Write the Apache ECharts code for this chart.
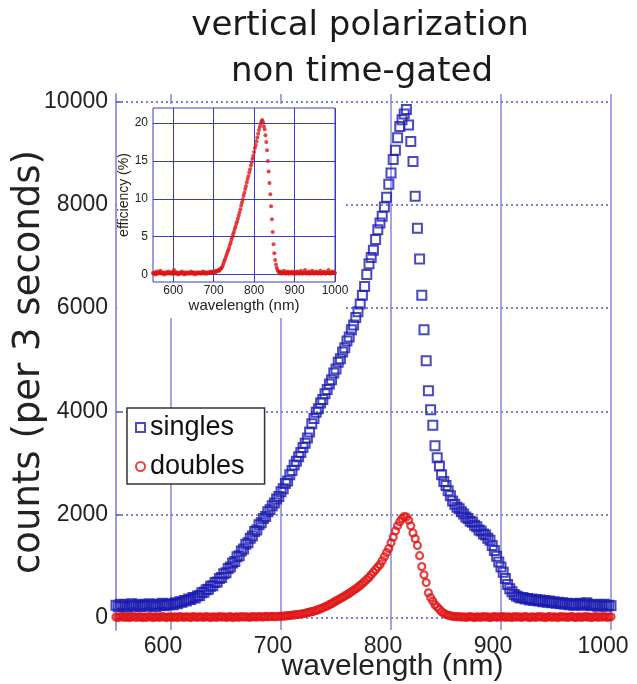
<!DOCTYPE html>
<html><head><meta charset="utf-8">
<script src="https://cdn.jsdelivr.net/npm/echarts@6/dist/echarts.min.js"></script>
<style>html,body{margin:0;padding:0;background:#fff}#c{width:637px;height:684px}</style>
</head><body><div id="c"></div><script>
const wavelengths = [550,552,554,556,558,560,562,564,566,568,570,572,574,576,578,580,582,584,586,588,590,592,594,596,598,
600,602,604,606,608,610,612,614,616,618,620,622,624,626,628,630,632,634,636,638,640,642,644,646,648,
650,652,654,656,658,660,662,664,666,668,670,672,674,676,678,680,682,684,686,688,690,692,694,696,698,
700,702,704,706,708,710,712,714,716,718,720,722,724,726,728,730,732,734,736,738,740,742,744,746,748,
750,752,754,756,758,760,762,764,766,768,770,772,774,776,778,780,782,784,786,788,790,792,794,796,798,
800,802,804,806,808,810,812,814,816,818,820,822,824,826,828,830,832,834,836,838,840,842,844,846,848,
850,852,854,856,858,860,862,864,866,868,870,872,874,876,878,880,882,884,886,888,890,892,894,896,898,
900,902,904,906,908,910,912,914,916,918,920,922,924,926,928,930,932,934,936,938,940,942,944,946,948,
950,952,954,956,958,960,962,964,966,968,970,972,974,976,978,980,982,984,986,988,990,992,994,996,998,1000];

const singles = [240,210,260,220,250,200,240,270,220,230,260,210,240,250,220,270,230,250,210,260,240,280,230,260,250,
270,250,290,270,310,300,330,320,360,350,390,380,420,430,480,490,540,550,610,620,680,690,760,780,850,
870,950,980,1060,1090,1180,1200,1290,1330,1420,1450,1540,1580,1670,1700,1800,1840,1920,1960,2050,2090,2170,2220,2300,2350,
2440,2500,2600,2650,2770,2850,2960,3030,3120,3200,3300,3380,3480,3600,3760,3860,3980,4050,4160,4230,4340,4420,4530,4610,4740,
4820,4950,5020,5150,5230,5360,5440,5580,5670,5820,5930,6080,6250,6420,6650,6860,6980,7120,7330,7520,7650,7780,7960,8150,8400,
8620,8880,9060,9300,9520,9650,9760,9850,9550,9230,8840,8170,7550,6950,6250,5580,4980,4400,4030,3730,3330,3100,2940,2770,2640,
2560,2460,2360,2260,2200,2140,2110,2050,2010,1950,1920,1870,1850,1790,1760,1700,1680,1620,1600,1540,1500,1400,1300,1190,1080,
980,880,760,640,560,500,450,420,400,380,390,360,370,340,360,330,350,320,340,310,330,300,320,290,310,
280,300,270,290,260,280,250,270,240,270,250,280,240,260,290,250,230,260,240,220,250,230,260,220,240,230];

const doubles = [10,0,20,10,5,15,0,10,20,5,10,15,0,10,5,20,10,0,15,10,5,20,10,0,15,
10,5,15,0,20,10,5,15,10,0,20,10,5,15,10,5,20,10,0,15,10,5,20,10,15,
5,10,20,0,10,15,5,20,10,15,10,5,20,15,10,20,15,10,25,15,20,25,15,20,25,
25,30,30,40,40,50,50,60,60,70,75,85,95,105,115,125,140,155,170,190,210,225,250,270,300,
320,345,370,395,420,445,470,500,530,560,590,625,660,700,740,780,830,880,930,980,1030,1100,1180,1260,1340,
1450,1560,1680,1780,1860,1920,1960,1950,1890,1780,1640,1530,1400,1200,990,830,680,480,390,320,250,205,160,115,85,
60,45,35,25,20,15,20,10,15,5,10,20,10,0,15,10,5,20,10,15,0,10,20,5,15,
10,20,5,15,10,0,20,10,15,5,10,20,10,0,15,10,5,20,10,15,0,10,20,5,15,
10,0,20,10,15,5,10,20,10,0,15,10,5,20,10,15,0,10,20,5,15,10,20,5,10,15];

const efficiency = [0.2,0.1,0.3,0.0,0.2,0.4,0.1,0.2,0.3,0.5,0.2,0.1,0.3,0.2,0.0,0.2,0.3,0.1,0.2,0.4,0.2,0.1,0.3,0.2,0.1,
0.3,0.6,0.2,0.1,0.3,0.2,0.0,0.2,0.1,0.3,0.2,0.4,0.1,0.2,0.0,0.3,0.2,0.1,0.2,0.3,0.1,0.2,0.4,0.2,0.1,
0.3,0.2,0.0,0.2,0.3,0.1,0.2,0.3,0.2,0.1,0.3,0.2,0.4,0.2,0.1,0.3,0.2,0.1,0.3,0.2,0.2,0.4,0.3,0.2,0.4,
0.3,0.4,0.3,0.5,0.4,0.5,0.6,0.5,0.7,0.8,0.9,1.1,1.4,1.7,2.0,2.3,2.6,2.9,3.2,3.5,3.9,4.2,4.6,4.9,5.3,
5.6,6.0,6.3,6.7,7.0,7.4,7.8,8.2,8.6,9.1,9.5,9.9,10.4,10.8,11.3,11.7,12.2,12.6,13.0,13.5,13.9,14.4,14.8,15.3,15.7,
16.2,16.7,17.1,17.6,18.1,18.6,19.1,19.5,19.9,20.2,20.4,20.1,19.6,19.2,18.4,17.5,16.4,15.0,13.6,12.1,10.6,9.0,7.3,5.6,4.0,
2.8,1.9,1.3,0.9,0.6,0.4,0.3,0.2,0.4,0.1,0.3,0.2,0.5,0.2,0.1,0.3,0.2,0.4,0.1,0.2,0.3,0.2,0.4,0.1,0.2,
0.3,0.2,0.1,0.4,0.2,0.3,0.1,0.2,0.5,0.2,0.1,0.3,0.2,0.6,0.2,0.1,0.3,0.2,0.4,0.1,0.2,0.3,0.5,0.2,0.1,
0.3,0.2,0.4,0.2,0.1,0.3,0.2,0.5,0.1,0.2,0.3,0.2,0.4,0.1,0.2,0.3,0.2,0.6,0.2,0.1,0.3,0.2,0.4,0.2,0.3,0.2];

const xTicks = [600,700,800,900,1000];
const yTicks = [0,2000,4000,6000,8000,10000];
const insetYTicks = [0,5,10,15,20];
const titleLines = ['vertical polarization','non time-gated'];
const seriesNames = ['singles','doubles'];
const axisNames = {x:'wavelength (nm)', y:'counts (per 3 seconds)', insetY:'efficiency (%)'};

const BLUE = '#1c1cb2', RED = '#e01414', VGRID = '#8686da', DOT = '#5656c8', INSET = '#3a3ac4';
const FONT = 'Liberation Sans';
const plain = (v) => String(v);

const chart = echarts.init(document.getElementById('c'), null, {renderer:'canvas'});
const pairs = (ys) => wavelengths.map((w, i) => [w, ys[i]]);

chart.setOption({
  animation: false,
  backgroundColor: '#fff',
  grid: [
    {left: 116, right: 26, top: 94, bottom: 54, outerBoundsMode: 'none', containLabel: false},
    {left: 153, top: 108, width: 182, height: 174, show: true, backgroundColor: '#fff',
     borderColor: INSET, borderWidth: 1, z: 10, outerBoundsMode: 'none', containLabel: false}
  ],
  xAxis: [
    {gridIndex: 0, type: 'value', min: 550, max: 1000,
     axisLine: {show: false},
     axisTick: {show: false, customValues: xTicks},
     axisLabel: {customValues: xTicks, formatter: plain, fontSize: 23, color: '#222', margin: 5,
                 fontFamily: FONT, padding: [0, 16, 0, 0]},
     splitLine: {show: true, lineStyle: {color: VGRID, width: 1.5}},
     name: axisNames.x, nameLocation: 'middle', nameGap: 22, nameMoveOverlap: false,
     nameTextStyle: {fontSize: 30, color: '#222', fontFamily: FONT, padding: [0, 0, 0, 58]}},
    {gridIndex: 1, type: 'value', min: 550, max: 1000, z: 11,
     axisLine: {show: false},
     axisTick: {show: false, customValues: xTicks},
     axisLabel: {customValues: xTicks, formatter: plain, fontSize: 12, color: '#222', margin: 3, fontFamily: FONT},
     splitLine: {show: true, lineStyle: {color: INSET, width: 1}},
     name: axisNames.x, nameLocation: 'middle', nameGap: 13,
     nameTextStyle: {fontSize: 15, color: '#222', fontFamily: FONT}}
  ],
  yAxis: [
    {gridIndex: 0, type: 'value', min: -240, max: 10150,
     axisLine: {show: true, lineStyle: {color: '#9a9ade', width: 2}},
     axisTick: {show: true, inside: true, length: 5, customValues: yTicks, lineStyle: {color: DOT, width: 1.5}},
     axisLabel: {customValues: yTicks, formatter: plain, fontSize: 23, color: '#222', margin: 8, fontFamily: FONT},
     splitLine: {show: true, lineStyle: {color: DOT, width: 1.5, type: [2, 3]}},
     name: axisNames.y, nameLocation: 'middle', nameGap: 68, nameMoveOverlap: false,
     nameTextStyle: {fontSize: 37, color: '#222', fontFamily: 'DejaVu Sans'}},
    {gridIndex: 1, type: 'value', min: -1, max: 22, z: 11,
     axisLine: {show: false},
     axisTick: {show: false, customValues: insetYTicks},
     axisLabel: {customValues: insetYTicks, formatter: plain, fontSize: 12, color: '#222', margin: 5, fontFamily: FONT},
     splitLine: {show: true, lineStyle: {color: INSET, width: 1}},
     name: axisNames.insetY, nameLocation: 'middle', nameGap: 20,
     nameTextStyle: {fontSize: 14, color: '#222', fontFamily: FONT}}
  ],
  legend: {
    data: seriesNames, orient: 'vertical', left: 127, top: 408,
    itemWidth: 9, itemHeight: 9, itemGap: 12, padding: [6, 20, 4, 8],
    borderColor: '#333', borderWidth: 1.5, backgroundColor: '#fff',
    textStyle: {fontSize: 27, color: '#111', fontFamily: FONT}
  },
  graphic: [
    {type: 'rect', z: 3, shape: {x: 117, y: 104, width: 229, height: 214}, style: {fill: '#fff'}},
    {type: 'text', x: 360, y: 26, z: 20,
     style: {text: titleLines[0], fontSize: 34, fontFamily: 'DejaVu Sans', fill: '#1a1a1a', align: 'center', verticalAlign: 'middle'}},
    {type: 'text', x: 362, y: 72, z: 20,
     style: {text: titleLines[1], fontSize: 34, fontFamily: 'DejaVu Sans', fill: '#1a1a1a', align: 'center', verticalAlign: 'middle'}}
  ],
  series: [
    {name: seriesNames[0], type: 'scatter', xAxisIndex: 0, yAxisIndex: 0, z: 2,
     symbol: 'rect', symbolSize: 9, data: pairs(singles),
     itemStyle: {color: 'rgba(255,255,255,0)', borderColor: BLUE, borderWidth: 2}},
    {name: seriesNames[1], type: 'scatter', xAxisIndex: 0, yAxisIndex: 0, z: 2,
     symbol: 'circle', symbolSize: 7, data: pairs(doubles),
     itemStyle: {color: 'rgba(255,255,255,0)', borderColor: RED, borderWidth: 2.2}},
    {name: 'efficiency', type: 'scatter', xAxisIndex: 1, yAxisIndex: 1, z: 12,
     symbol: 'circle', symbolSize: 4, data: pairs(efficiency),
     itemStyle: {color: RED}}
  ]
});
</script></body></html>
